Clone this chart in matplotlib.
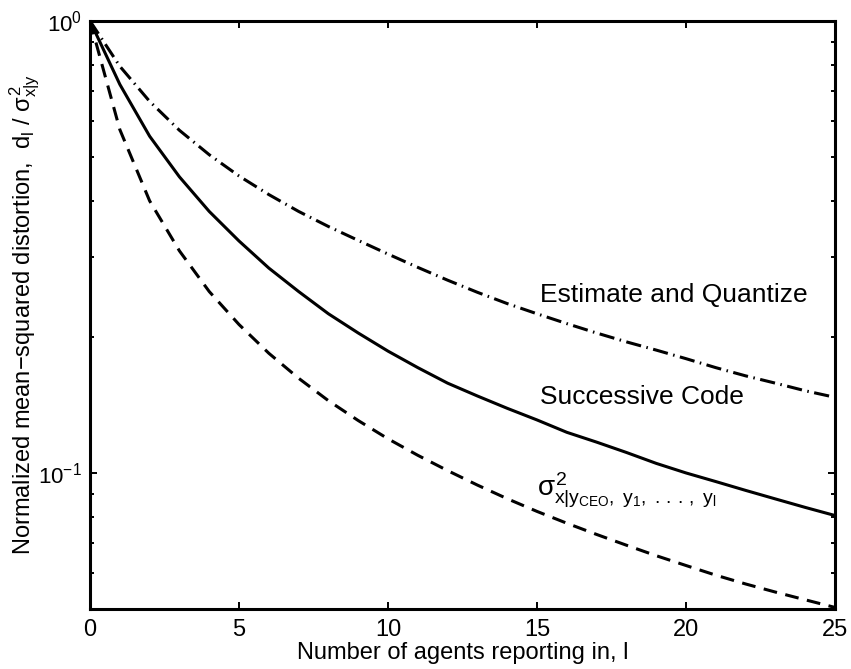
import matplotlib
matplotlib.use('Agg')
import matplotlib.pyplot as plt
import numpy as np

plt.rcParams['font.family'] = ['Liberation Sans', 'DejaVu Sans']
plt.rcParams['mathtext.fontset'] = 'custom'
plt.rcParams['mathtext.rm'] = 'Liberation Sans'
plt.rcParams['mathtext.it'] = 'Liberation Sans'
plt.rcParams['mathtext.bf'] = 'Liberation Sans:bold'

# number of agents reporting in
agents = list(range(26))

# estimate and quantize (dash-dot)
est_quant = [1.0, 0.794, 0.664, 0.573, 0.506, 0.454, 0.413, 0.379, 0.351, 0.327,
             0.305, 0.285, 0.267, 0.251, 0.237, 0.225, 0.214, 0.204, 0.195, 0.187,
             0.179, 0.171, 0.164, 0.158, 0.152, 0.147]

# successive code (solid)
successive = [1.0, 0.724, 0.556, 0.452, 0.379, 0.326, 0.284, 0.252, 0.225, 0.204,
              0.186, 0.171, 0.158, 0.148, 0.139, 0.131, 0.123, 0.117, 0.111, 0.105,
              0.100, 0.0957, 0.0915, 0.0876, 0.0839, 0.0805]

# conditional variance bound (dashed)
bound = [1.0, 0.575, 0.400, 0.310, 0.252, 0.213, 0.184, 0.162, 0.1445, 0.1306,
         0.119, 0.1094, 0.1012, 0.0940, 0.0877, 0.0822, 0.0774, 0.0731, 0.0692, 0.0656,
         0.0624, 0.0594, 0.0568, 0.0545, 0.0524, 0.0504]

fs = 17

fig = plt.figure(figsize=(8.51, 6.69), dpi=100)
ax = fig.add_axes([0.1058, 0.0897, 0.8754, 0.8789])

ax.plot(agents, est_quant, color='k', lw=2.2, linestyle=(0, (5, 1.8, 0.5, 1.8)))
ax.plot(agents, successive, color='k', lw=2.2, linestyle='-')
ax.plot(agents, bound, color='k', lw=2.2, linestyle=(0, (4.5, 2.8)))

ax.set_yscale('log')
ax.set_xlim(0, 25)
ax.set_ylim(0.05, 1)
ax.set_xticks([0, 5, 10, 15, 20, 25])
ax.set_yticks([0.1, 1])
ax.set_yticklabels([r'$10^{-1}$', r'$10^{0}$'])

ax.tick_params(which='both', direction='in', top=True, right=True, labelsize=fs, width=1.4)
ax.tick_params(which='major', length=5, pad=7)
ax.tick_params(which='minor', length=2.8)
ax.tick_params(axis='y', labelsize=16, pad=6)
for s in ax.spines.values():
    s.set_linewidth(2.2)

ax.set_xlabel('Number of agents reporting in, l', fontsize=fs, labelpad=1)
ax.set_ylabel('Normalized mean\u2212squared distortion,  $d_l\\ /\\ \\sigma^2_{x|y}$', fontsize=fs, labelpad=-3)

ax.text(15.1, 0.248, 'Estimate and Quantize', fontsize=19, va='center', ha='left')
ax.text(15.1, 0.147, 'Successive Code', fontsize=19, va='center', ha='left')
ax.text(15.0, 0.0888, r'$\sigma^2_{x|y_{CEO},\ y_1,\ .\,.\,.\,,\ y_l}$', fontsize=20, va='baseline', ha='left')

fig.savefig('out.png', dpi=100)
